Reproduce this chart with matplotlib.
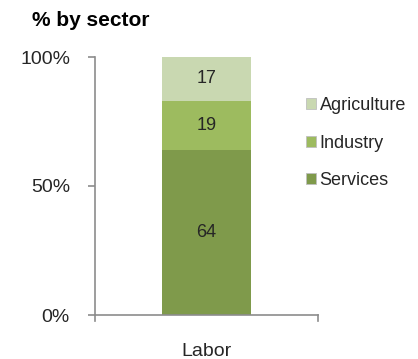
import matplotlib
matplotlib.use("Agg")
import matplotlib.pyplot as plt
from matplotlib.patches import Patch

plt.rcParams['font.family'] = ['Liberation Sans', 'DejaVu Sans']

categories = ["Labor"]
sectors = ["Services", "Industry", "Agriculture"]
values = {"Services": [64], "Industry": [19], "Agriculture": [17]}
colors = {"Services": "#7f9a4b", "Industry": "#9dbb5f", "Agriculture": "#c9d8b1"}
yticks = [0, 50, 100]
ytick_labels = ["0%", "50%", "100%"]

fig = plt.figure(figsize=(4.18, 3.59), dpi=100)
ax = fig.add_axes([95 / 418, 1 - 315 / 359, 223 / 418, 258 / 359])

x = list(range(len(categories)))
bottom = [0] * len(categories)
for s in sectors:
    v = values[s]
    ax.bar(x, v, width=0.4, bottom=bottom, color=colors[s],
           edgecolor="none", label=s)
    for xi, b, val in zip(x, bottom, v):
        ax.text(xi, b + val / 2, f"{val}", ha="center", va="center",
                fontsize=13, color="#262626")
    bottom = [b + val for b, val in zip(bottom, v)]

ax.set_xlim(-0.5, 0.5)
ax.set_ylim(0, 100)
ax.set_yticks(yticks)
ax.set_yticklabels(ytick_labels)
ax.set_xticks(x)
ax.set_xticklabels(categories)

for side in ["top", "right"]:
    ax.spines[side].set_visible(False)
for side in ["left", "bottom"]:
    ax.spines[side].set_color("#8c8c8c")
    ax.spines[side].set_linewidth(1.2)

ax.tick_params(axis="y", length=5, width=1.2, color="#8c8c8c", pad=13,
               labelsize=14, labelcolor="#262626")
ax.tick_params(axis="x", length=0, pad=20, labelsize=14, labelcolor="#262626")

# small downward ticks at both ends of the category axis
for xe in (-0.5, 0.5):
    ax.plot([xe, xe], [0, -2.5], color="#8c8c8c", lw=1.2, clip_on=False)

handles = [Patch(facecolor=colors[s], edgecolor="#bfbfbf", linewidth=0.6, label=s)
           for s in ["Agriculture", "Industry", "Services"]]
fig.legend(handles=handles, loc="center left", bbox_to_anchor=(306 / 418, 1 - 143 / 359),
           frameon=False, fontsize=13, handlelength=0.55, handleheight=0.55,
           handletextpad=0.2, labelspacing=1.15, labelcolor="#262626",
           borderpad=0, borderaxespad=0)

fig.text(32 / 418, 1 - 26 / 359, "% by sector", fontsize=15, fontweight="bold",
         va="baseline", ha="left", color="#000000")

fig.savefig("out.png", dpi=100)
